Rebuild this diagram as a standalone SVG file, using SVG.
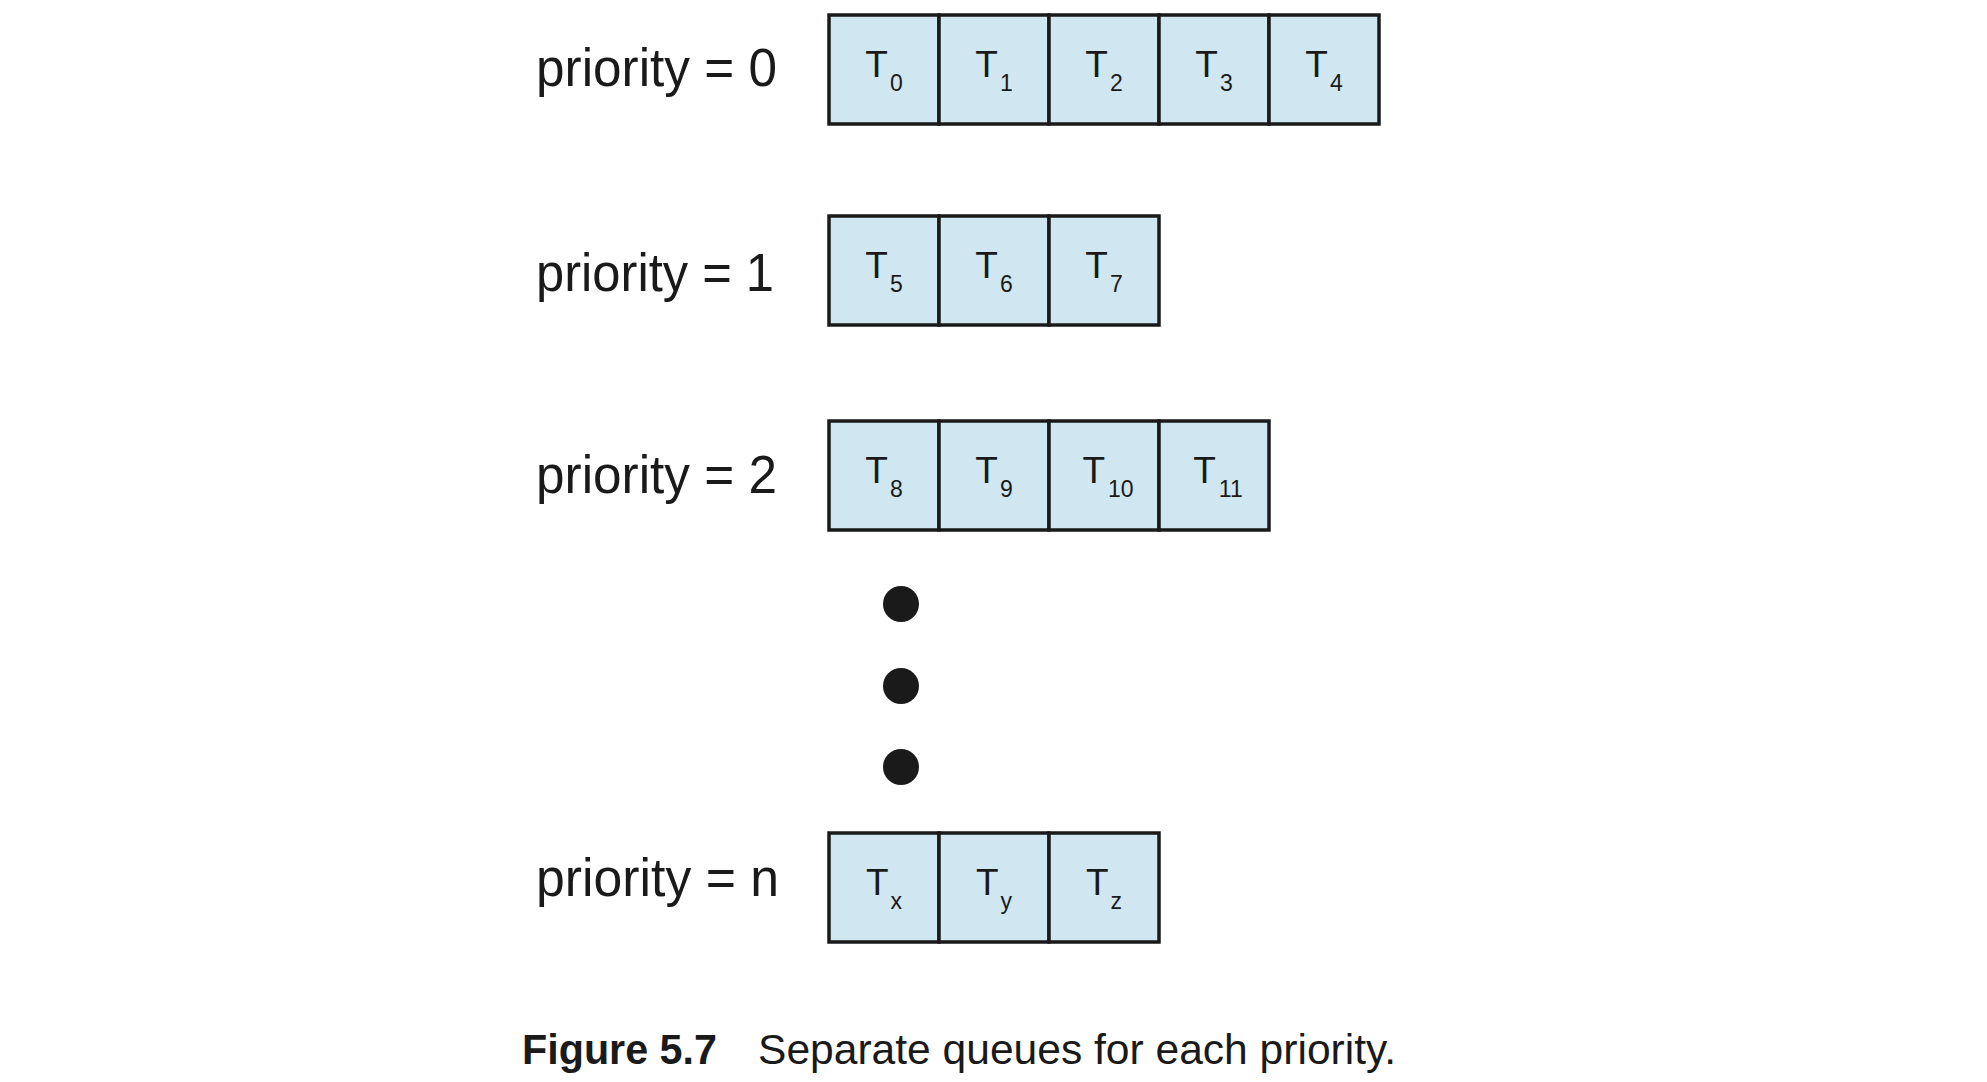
<svg xmlns="http://www.w3.org/2000/svg" width="1987" height="1082" viewBox="0 0 1987 1082">
<style>
.cell rect{fill:#d0e6f0;stroke:#1a1a1a;stroke-width:3.5}
.t{font-family:"Liberation Sans",Arial,sans-serif;font-size:37px;fill:#1a1a1a;text-anchor:middle}
.s{font-size:23px}
.lbl{font-family:"Liberation Sans",Arial,sans-serif;font-size:53px;fill:#1a1a1a}
.dot{fill:#1a1a1a}
.cap{font-family:"Liberation Sans",Arial,sans-serif;font-size:43px;fill:#1a1a1a}
</style>
<rect width="1987" height="1082" fill="#ffffff"/>
<g id="labels">
<text class="lbl" x="536" y="86" textLength="241" lengthAdjust="spacingAndGlyphs">priority = 0</text>
<text class="lbl" x="536" y="291" textLength="238" lengthAdjust="spacingAndGlyphs">priority = 1</text>
<text class="lbl" x="536" y="493" textLength="241" lengthAdjust="spacingAndGlyphs">priority = 2</text>
<text class="lbl" x="536" y="896" textLength="243" lengthAdjust="spacingAndGlyphs">priority = n</text>
</g>
<g id="queue0">
<g id="T0" class="cell"><rect x="829" y="15" width="110" height="109"/><text class="t" x="884" y="77">T<tspan class="s" dx="2" dy="14">0</tspan></text></g>
<g id="T1" class="cell"><rect x="939" y="15" width="110" height="109"/><text class="t" x="994" y="77">T<tspan class="s" dx="2" dy="14">1</tspan></text></g>
<g id="T2" class="cell"><rect x="1049" y="15" width="110" height="109"/><text class="t" x="1104" y="77">T<tspan class="s" dx="2" dy="14">2</tspan></text></g>
<g id="T3" class="cell"><rect x="1159" y="15" width="110" height="109"/><text class="t" x="1214" y="77">T<tspan class="s" dx="2" dy="14">3</tspan></text></g>
<g id="T4" class="cell"><rect x="1269" y="15" width="110" height="109"/><text class="t" x="1324" y="77">T<tspan class="s" dx="2" dy="14">4</tspan></text></g>
</g>
<g id="queue1">
<g id="T5" class="cell"><rect x="829" y="216" width="110" height="109"/><text class="t" x="884" y="278">T<tspan class="s" dx="2" dy="14">5</tspan></text></g>
<g id="T6" class="cell"><rect x="939" y="216" width="110" height="109"/><text class="t" x="994" y="278">T<tspan class="s" dx="2" dy="14">6</tspan></text></g>
<g id="T7" class="cell"><rect x="1049" y="216" width="110" height="109"/><text class="t" x="1104" y="278">T<tspan class="s" dx="2" dy="14">7</tspan></text></g>
</g>
<g id="queue2">
<g id="T8" class="cell"><rect x="829" y="421" width="110" height="109"/><text class="t" x="884" y="483">T<tspan class="s" dx="2" dy="14">8</tspan></text></g>
<g id="T9" class="cell"><rect x="939" y="421" width="110" height="109"/><text class="t" x="994" y="483">T<tspan class="s" dx="2" dy="14">9</tspan></text></g>
<g id="T10" class="cell"><rect x="1049" y="421" width="110" height="109"/><text class="t" x="1108" y="483">T<tspan class="s" dx="3" dy="14">10</tspan></text></g>
<g id="T11" class="cell"><rect x="1159" y="421" width="110" height="109"/><text class="t" x="1218" y="483">T<tspan class="s" dx="3" dy="14">11</tspan></text></g>
</g>
<g id="ellipsis">
<circle class="dot" cx="901" cy="604" r="18"/>
<circle class="dot" cx="901" cy="686" r="18"/>
<circle class="dot" cx="901" cy="767" r="18"/>
</g>
<g id="queuen">
<g id="Tx" class="cell"><rect x="829" y="833" width="110" height="109"/><text class="t" x="884" y="895">T<tspan class="s" dx="2" dy="14">x</tspan></text></g>
<g id="Ty" class="cell"><rect x="939" y="833" width="110" height="109"/><text class="t" x="994" y="895">T<tspan class="s" dx="2" dy="14">y</tspan></text></g>
<g id="Tz" class="cell"><rect x="1049" y="833" width="110" height="109"/><text class="t" x="1104" y="895">T<tspan class="s" dx="2" dy="14">z</tspan></text></g>
</g>
<g id="caption">
<text class="cap" x="522" y="1064" font-weight="bold" textLength="195" lengthAdjust="spacingAndGlyphs">Figure 5.7</text>
<text class="cap" x="758" y="1064" textLength="638" lengthAdjust="spacingAndGlyphs">Separate queues for each priority.</text>
</g>
</svg>
